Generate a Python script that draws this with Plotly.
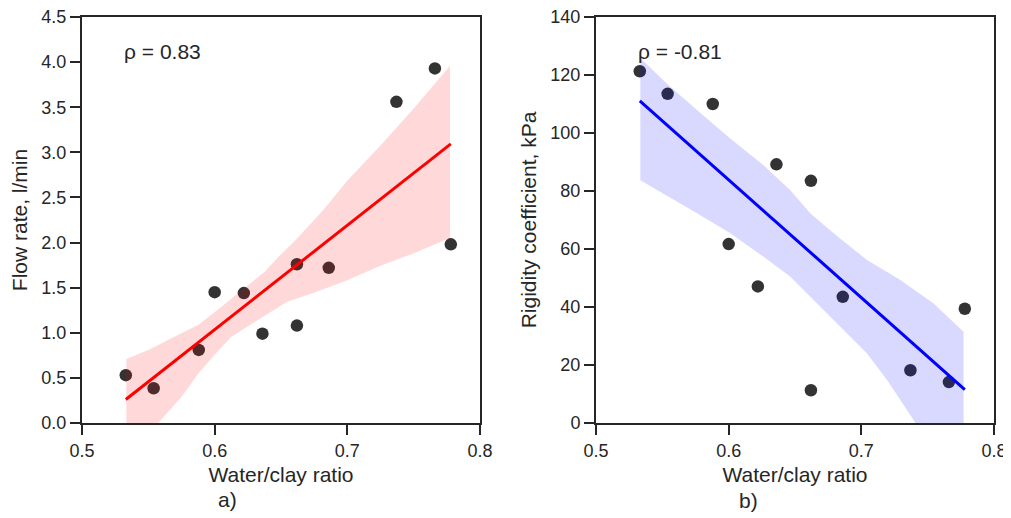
import numpy as np
import plotly.graph_objects as go

# ---------------- data ----------------
wc_ratio = [0.533, 0.554, 0.588, 0.600, 0.622, 0.636, 0.662, 0.662, 0.686, 0.737, 0.766, 0.778]
flow_rate = [0.53, 0.385, 0.81, 1.45, 1.44, 0.99, 1.76, 1.08, 1.72, 3.56, 3.93, 1.98]
rigidity = [121.3, 113.5, 110.0, 61.7, 47.1, 89.2, 83.5, 11.3, 43.5, 18.2, 14.1, 39.4]

# 95% confidence band edges (bootstrap band)
flow_ci_hi_x = [0.5334, 0.5500, 0.5700, 0.5877, 0.6002, 0.6128, 0.6253, 0.6379, 0.6492, 0.6605, 0.6819, 0.6995, 0.7246, 0.7497, 0.7774]
flow_ci_hi = [0.71, 0.81, 0.96, 1.09, 1.23, 1.38, 1.52, 1.68, 1.86, 2.02, 2.36, 2.68, 3.07, 3.48, 3.96]
flow_ci_lo_x = [0.5334, 0.5575, 0.5751, 0.5877, 0.6002, 0.6128, 0.6253, 0.6379, 0.6543, 0.6743, 0.6995, 0.7246, 0.7497, 0.7774]
flow_ci_lo = [-0.45, 0.0, 0.29, 0.55, 0.76, 0.96, 1.08, 1.19, 1.34, 1.44, 1.58, 1.74, 1.88, 2.05]

rig_ci_hi_x = [0.5334, 0.5535, 0.5761, 0.6012, 0.6263, 0.6465, 0.6615, 0.6791, 0.7043, 0.7294, 0.7545, 0.7771]
rig_ci_hi = [125.9, 117.0, 107.9, 98.1, 88.9, 80.3, 72.3, 65.4, 56.2, 49.3, 41.2, 31.5]
rig_ci_lo_x = [0.5334, 0.5510, 0.5761, 0.6012, 0.6263, 0.6465, 0.6615, 0.6791, 0.7043, 0.7194, 0.7394, 0.7771]
rig_ci_lo = [83.7, 79.1, 72.3, 65.4, 57.3, 50.4, 43.5, 35.5, 24.0, 14.8, 1.0, -25.0]

x_ticks = [0.5, 0.6, 0.7, 0.8]
flow_ticks = [0.0, 0.5, 1.0, 1.5, 2.0, 2.5, 3.0, 3.5, 4.0, 4.5]
rig_ticks = [0, 20, 40, 60, 80, 100, 120, 140]

rho_flow = "ρ = 0.83"
rho_rig = "ρ = -0.81"

# ---------------- figure ----------------
# the page body has an 8px margin, so the figure is shifted/drawn 8px smaller
OFF = 8
W, H = 1011 - OFF, 518 - OFF
ML = 82 - OFF
MT = 17 - OFF
MR = W - (994 - OFF)
MB = H - (423 - OFF)
PW = W - ML - MR
PH = H - MT - MB

TXT = "#262626"
FONT = "Liberation Sans, Arial, sans-serif"

fig = go.Figure()


def add_panel(x, y, hx, hy, lx, ly, line_color, fill_color, xa, ya):
    # scatter points
    fig.add_trace(go.Scatter(
        x=x, y=y, mode="markers", xaxis=xa, yaxis=ya,
        marker=dict(size=12.5, color="rgba(0,0,0,0.8)", line=dict(width=0)),
        showlegend=False, hoverinfo="x+y"))
    # confidence band (polygon: upper edge then lower edge reversed)
    fig.add_trace(go.Scatter(
        x=list(hx) + list(lx)[::-1], y=list(hy) + list(ly)[::-1],
        mode="lines", fill="toself", fillcolor=fill_color,
        line=dict(width=0), xaxis=xa, yaxis=ya, showlegend=False,
        hoverinfo="skip"))
    # regression line
    slope, icpt = np.polyfit(np.array(x), np.array(y), 1)
    gx = np.linspace(min(x), max(x), 100)
    fig.add_trace(go.Scatter(
        x=gx, y=slope * gx + icpt, mode="lines", xaxis=xa, yaxis=ya,
        line=dict(color=line_color, width=3), showlegend=False,
        hoverinfo="skip"))


add_panel(wc_ratio, flow_rate, flow_ci_hi_x, flow_ci_hi, flow_ci_lo_x, flow_ci_lo,
          "#ff0000", "rgba(255,0,0,0.15)", "x", "y")
add_panel(wc_ratio, rigidity, rig_ci_hi_x, rig_ci_hi, rig_ci_lo_x, rig_ci_lo,
          "#0000ff", "rgba(0,0,255,0.15)", "x2", "y2")

axis_common = dict(
    showline=True, linecolor=TXT, linewidth=2, mirror=True,
    ticks="outside", ticklen=10, tickwidth=2, tickcolor=TXT,
    showgrid=False, zeroline=False, ticklabeloverflow="allow",
    tickfont=dict(size=18, color=TXT, family=FONT),
)

left_dom = [0, (480 - 82) / PW]
right_dom = [(596 - 82) / PW, 1]

fig.update_layout(
    width=W, height=H,
    margin=dict(l=ML, r=MR, t=MT, b=MB, autoexpand=False),
    paper_bgcolor="white", plot_bgcolor="white",
    font=dict(family=FONT, color=TXT),
    xaxis=dict(domain=left_dom, anchor="y", range=[0.5, 0.8], tickvals=x_ticks,
               ticktext=[f"{v:.1f}" for v in x_ticks],
               title=dict(text="Water/clay ratio", font=dict(size=21, color=TXT), standoff=8),
               **axis_common),
    yaxis=dict(domain=[0, 1], anchor="x", range=[0, 4.5], tickvals=flow_ticks,
               ticktext=[f"{v:.1f}" for v in flow_ticks],
               title=dict(text="Flow rate, l/min", font=dict(size=21, color=TXT), standoff=8),
               **axis_common),
    xaxis2=dict(domain=right_dom, anchor="y2", range=[0.5, 0.8], tickvals=x_ticks,
                ticktext=[f"{v:.1f}" for v in x_ticks],
                title=dict(text="Water/clay ratio", font=dict(size=21, color=TXT), standoff=8),
                **axis_common),
    yaxis2=dict(domain=[0, 1], anchor="x2", range=[0, 140], tickvals=rig_ticks,
                ticktext=[str(v) for v in rig_ticks],
                title=dict(text="Rigidity coefficient, kPa", font=dict(size=21, color=TXT), standoff=8),
                **axis_common),
)

ann_font = dict(size=21, color=TXT, family=FONT)
fig.add_annotation(text=rho_flow, xref="x domain", yref="y domain", x=0.1, y=0.916,
                   xanchor="left", yanchor="middle", showarrow=False, font=ann_font)
fig.add_annotation(text=rho_rig, xref="x2 domain", yref="y2 domain", x=0.1, y=0.916,
                   xanchor="left", yanchor="middle", showarrow=False, font=ann_font)
fig.add_annotation(text="a)", xref="paper", yref="paper", x=(227 - 82) / PW, y=(423 - 499) / PH,
                   xanchor="center", yanchor="middle", showarrow=False, font=ann_font)
fig.add_annotation(text="b)", xref="paper", yref="paper", x=(748 - 82) / PW, y=(423 - 500) / PH,
                   xanchor="center", yanchor="middle", showarrow=False, font=ann_font)

fig.write_html("out.html")
